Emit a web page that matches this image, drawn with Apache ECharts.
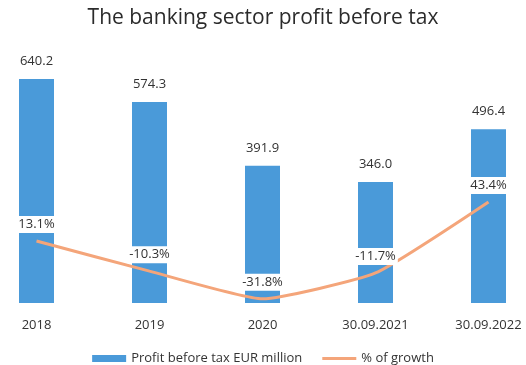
<!DOCTYPE html>
<html>
<head>
<meta charset="utf-8">
<script src="https://cdn.jsdelivr.net/npm/echarts@6/dist/echarts.min.js"></script>
<style>
  html, body { margin: 0; padding: 0; background: #fff; }
  #chart { width: 526px; height: 365px; }
</style>
</head>
<body>
<div id="chart"></div>
<script>
// Banking sector profit before tax, EUR million, and year-on-year growth
const categories = ['2018', '2019', '2020', '30.09.2021', '30.09.2022'];
const profitValues = [640.2, 574.3, 391.9, 346.0, 496.4];
const growthValues = [13.1, -10.3, -31.8, -11.7, 43.4];
const growthLabels = ['13.1%', '-10.3%', '-31.8%', '-11.7%', '43.4%'];

const FONT = '"Open Sans", "Liberation Sans", sans-serif';
const chart = echarts.init(document.getElementById('chart'), null, { renderer: 'canvas' });

chart.setOption({
  animation: false,
  backgroundColor: '#ffffff',
  title: {
    text: 'The banking sector profit before tax',
    left: 'center',
    top: 3,
    textStyle: { fontFamily: FONT, fontSize: 21, fontWeight: 'normal', color: '#2b2b2b' }
  },
  legend: {
    bottom: -5,
    left: 'center',
    itemGap: 20,
    itemWidth: 34,
    itemHeight: 7,
    textStyle: { fontFamily: FONT, fontSize: 13, color: '#333' },
    data: [
      { name: 'Profit before tax EUR million', icon: 'rect' },
      { name: '% of growth', icon: 'path://M0,0L34,0L34,3L0,3Z' }
    ]
  },
  grid: { left: -20, right: -19, top: 58, bottom: 62, outerBoundsMode: 'none' },
  xAxis: {
    type: 'category',
    data: categories,
    axisLine: { show: false },
    axisTick: { show: false },
    axisLabel: { fontFamily: FONT, fontSize: 13, color: '#333', margin: 16 }
  },
  yAxis: [
    { type: 'value', min: 0, max: 700, show: false, splitLine: { show: false } },
    { type: 'value', min: -35, max: 155, show: false, splitLine: { show: false } }
  ],
  series: [
    {
      name: 'Profit before tax EUR million',
      type: 'bar',
      data: profitValues,
      barWidth: 35,
      itemStyle: { color: '#4a9ad9' },
      label: {
        show: true,
        position: 'top',
        distance: 11,
        fontFamily: FONT,
        fontSize: 13,
        color: '#333',
        formatter: p => p.value.toFixed(1)
      }
    },
    {
      name: '% of growth',
      type: 'line',
      yAxisIndex: 1,
      data: growthValues,
      smooth: 0.15,
      symbol: 'circle',
      symbolSize: 0,
      lineStyle: { color: '#f4a57a', width: 3 },
      itemStyle: { color: '#f4a57a' },
      label: {
        show: true,
        position: 'top',
        distance: 8,
        fontFamily: FONT,
        fontSize: 13,
        color: '#333',
        backgroundColor: '#ffffff',
        padding: [2, 2],
        formatter: p => growthLabels[p.dataIndex]
      },
      z: 3
    }
  ]
});
</script>
</body>
</html>
